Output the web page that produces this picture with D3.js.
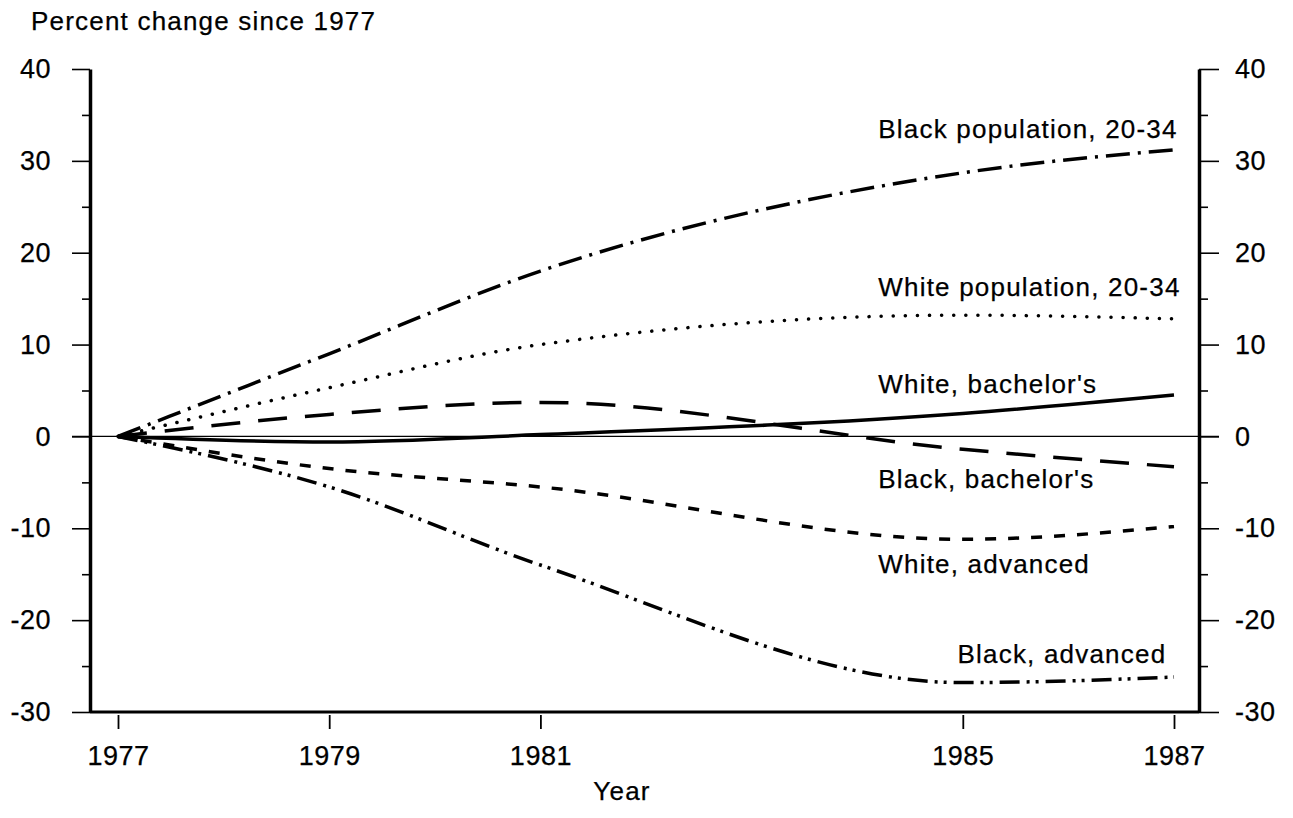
<!DOCTYPE html>
<html lang="en">
  <head>
    <meta charset="utf-8" />
    <title>Percent change since 1977</title>
    <script src="https://d3js.org/d3.v7.min.js"></script>
    <style>
      body { margin: 0; background: white; }
      text { font-family: "Liberation Sans", Arial, sans-serif; fill: black; stroke: black; stroke-width: 0.25px; }
      .axis text { font-size: 27px; letter-spacing: 0.5px; font-family: "Liberation Sans", Arial, sans-serif; }
      .axis path, .axis line { stroke: black; }
      .label { font-size: 26px; letter-spacing: 1.2px; }
    </style>
  </head>
  <body>
    <svg width="1293" height="818"></svg>
    <script>
      const years = [1977, 1979, 1981, 1985, 1987];
      const blackPop = [0, 9.0, 18.0, 28.7, 31.2];
      const whitePop = [0, 5.3, 10.0, 13.2, 12.8];
      const whiteBach = [0, -0.6, 0.2, 2.5, 4.5];
      const blackBach = [0, 2.4, 3.7, -1.4, -3.3];
      const whiteAdv = [0, -3.5, -5.5, -11.2, -9.8];
      const blackAdv = [0, -5.5, -14.0, -26.8, -26.2];

      const seriesNames = ["Black population, 20-34", "White population, 20-34", "White, bachelor's",
        "Black, bachelor's", "White, advanced", "Black, advanced"];
      const seriesValues = [blackPop, whitePop, whiteBach, blackBach, whiteAdv, blackAdv];
      const dashes = ["24 8 3 8", "0.1 12", null, "29 18", "11 12", "20 7 3 6 3 7"];
      // where each label text starts: [year, value]
      const labelPos = [[1984.2, 32.5], [1984.2, 15.3], [1984.2, 4.7], [1984.2, -5.6], [1984.2, -14.9], [1984.95, -24.7]];

      const svg = d3.select("svg");
      const x = d3.scaleLinear().domain([1977, 1987]).range([118, 1174]);
      const y = d3.scaleLinear().domain([-30, 40]).range([712, 69]);
      const left = 90, right = 1199;

      const majors = d3.range(-30, 41, 10);
      const minors = d3.range(-25, 40, 10);
      const fmtY = d => (d < 0 ? "-" + Math.abs(d) : String(d));

      // zero line
      svg.append("line")
        .attr("x1", left - 18).attr("x2", right + 20)
        .attr("y1", y(0)).attr("y2", y(0))
        .attr("stroke", "black").attr("stroke-width", 1.3);

      // left axis
      svg.append("g").attr("class", "axis")
        .attr("transform", `translate(${left},0)`)
        .call(d3.axisLeft(y).tickValues(majors).tickFormat(fmtY).tickSize(18).tickSizeOuter(0).tickPadding(21))
        .call(g => g.select(".domain").attr("stroke-width", 3.5))
        .call(g => g.selectAll(".tick line").attr("stroke-width", 1.6));
      svg.append("g").attr("class", "axis")
        .attr("transform", `translate(${left},0)`)
        .call(d3.axisLeft(y).tickValues(minors).tickSize(8).tickFormat(""))
        .call(g => g.select(".domain").remove())
        .call(g => g.selectAll(".tick line").attr("stroke-width", 1.6));

      // right axis
      svg.append("g").attr("class", "axis")
        .attr("transform", `translate(${right},0)`)
        .call(d3.axisRight(y).tickValues(majors).tickFormat(fmtY).tickSize(20).tickSizeOuter(0).tickPadding(16))
        .call(g => g.select(".domain").attr("stroke-width", 3.5))
        .call(g => g.selectAll(".tick line").attr("stroke-width", 1.6));
      svg.append("g").attr("class", "axis")
        .attr("transform", `translate(${right},0)`)
        .call(d3.axisRight(y).tickValues(minors).tickSize(9).tickFormat(""))
        .call(g => g.select(".domain").remove())
        .call(g => g.selectAll(".tick line").attr("stroke-width", 1.6));

      // bottom axis
      svg.append("line")
        .attr("x1", left).attr("x2", right)
        .attr("y1", y(-30)).attr("y2", y(-30))
        .attr("stroke", "black").attr("stroke-width", 3);
      svg.append("g").attr("class", "axis")
        .attr("transform", `translate(0,${y(-30) + 3})`)
        .call(d3.axisBottom(x).tickValues(years).tickFormat(d3.format("d")).tickSize(14).tickSizeOuter(0).tickPadding(17))
        .call(g => g.select(".domain").remove())
        .call(g => g.selectAll(".tick line").attr("stroke-width", 1.8));

      // titles
      svg.append("text").attr("class", "label").attr("x", 31).attr("y", 30)
        .text("Percent change since 1977");
      svg.append("text").attr("class", "label").attr("x", 622).attr("y", 800)
        .attr("text-anchor", "middle").text("Year");

      // lines
      const line = d3.line()
        .x((d, i) => x(years[i]))
        .y(d => y(d))
        .curve(d3.curveMonotoneX);

      svg.append("g").selectAll("path.series")
        .data(seriesValues)
        .join("path")
        .attr("class", "series")
        .attr("d", line)
        .attr("fill", "none")
        .attr("stroke", "black")
        .attr("stroke-width", 3.5)
        .attr("stroke-linecap", (d, i) => (i === 1 ? "round" : "butt"))
        .attr("stroke-dasharray", (d, i) => dashes[i]);

      // labels
      svg.append("g").selectAll("text.series-label")
        .data(seriesNames)
        .join("text")
        .attr("class", "label series-label")
        .attr("x", (d, i) => x(labelPos[i][0]))
        .attr("y", (d, i) => y(labelPos[i][1]))
        .text(d => d);
    </script>
  </body>
</html>
